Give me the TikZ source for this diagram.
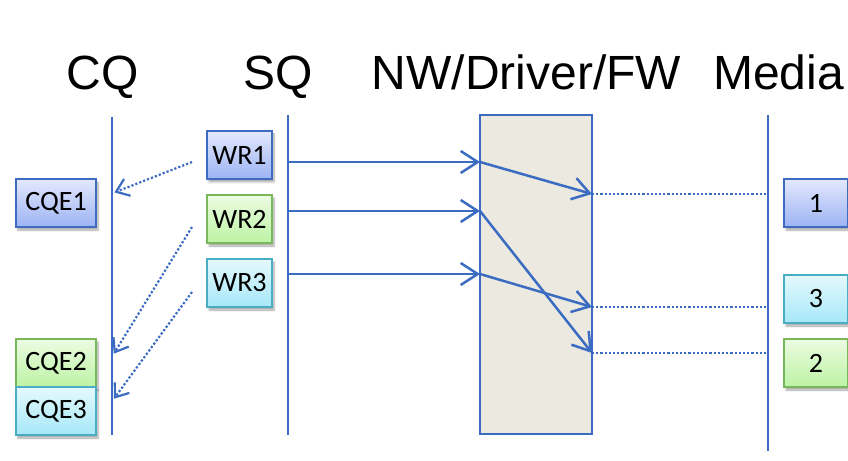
\documentclass[tikz,border=0pt]{standalone}
\usepackage{fontspec}
\setmainfont{Liberation Sans}
\newfontfamily\boxfont{Carlito}
\usetikzlibrary{arrows.meta,shadows.blur}

\definecolor{linec}{HTML}{3B6CC2}
\definecolor{bluetop}{HTML}{E2E8FC}
\definecolor{bluebot}{HTML}{9DB3F4}
\definecolor{blueedge}{HTML}{3D6BC0}
\definecolor{greentop}{HTML}{ECFCE2}
\definecolor{greenbot}{HTML}{BCF3A4}
\definecolor{greenedge}{HTML}{78B75C}
\definecolor{cyantop}{HTML}{E4F9FD}
\definecolor{cyanbot}{HTML}{A6E8F8}
\definecolor{cyanedge}{HTML}{4BACC6}
\definecolor{boxfill}{HTML}{ECEAE0}

\tikzset{
  title/.style={anchor=base, font=\fontsize{48bp}{52bp}\selectfont},
  lifeline/.style={draw=linec, line width=2.5bp},
  qbox/.style={minimum width=80bp, minimum height=48bp, inner sep=0pt,
    line width=2.2bp, font=\boxfont\fontsize{28bp}{30bp}\selectfont,
    blur shadow={shadow xshift=2bp, shadow yshift=-3bp, shadow blur steps=6, shadow opacity=35}},
  wbox/.style={qbox, minimum width=65bp},
  mbox/.style={qbox, minimum width=64bp},
  bluebox/.style={draw=blueedge, top color=bluetop, bottom color=bluebot},
  greenbox/.style={draw=greenedge, top color=greentop, bottom color=greenbot},
  cyanbox/.style={draw=cyanedge, top color=cyantop, bottom color=cyanbot},
  msg/.style={draw=linec, line width=2.5bp, -{Straight Barb[length=17bp, width=22bp, line width=2.5bp]}},
  cqe/.style={draw=linec, line width=2.2bp, dotted, -{Straight Barb[length=12bp, width=18bp, line width=2.2bp, sep]}},
  media/.style={draw=linec, line width=2.2bp, dotted}
}

\begin{document}
\begin{tikzpicture}[x=1bp, y=-1bp]
  \useasboundingbox (0,0) rectangle (848,461);

  % column headings
  \node[title] (tcq) at (102.5,90) {CQ};
  \node[title] (tsq) at (278.5,90) {SQ};
  \node[title] (tnw) at (526.5,90) {NW/Driver/FW};
  \node[title] (tmd) at (778.5,90) {Media};

  % network / driver / firmware stage
  \node[draw=linec, line width=2.5bp, fill=boxfill, minimum width=112bp,
        minimum height=319bp, inner sep=0pt] (nw) at (536,274.5) {};

  % lifelines
  \coordinate (cqtop) at (112,117);  \coordinate (cqbot) at (112,435);
  \coordinate (sqtop) at (288,115);  \coordinate (sqbot) at (288,435);
  \coordinate (mdtop) at (768,115);  \coordinate (mdbot) at (768,451);
  \draw[lifeline] (cqtop) -- (cqbot);
  \draw[lifeline] (sqtop) -- (sqbot);
  \draw[lifeline] (mdtop) -- (mdbot);

  % work requests
  \node[wbox, bluebox]  (wr1) at (239.5,155) {WR1};
  \node[wbox, greenbox] (wr2) at (239.5,219) {WR2};
  \node[wbox, cyanbox]  (wr3) at (239.5,283) {WR3};

  % completion queue entries
  \node[qbox, bluebox]  (cqe1) at (56,203) {CQE1};
  \node[qbox, greenbox] (cqe2) at (56,363) {CQE2};
  \node[qbox, cyanbox]  (cqe3) at (56,411) {CQE3};

  % media blocks
  \node[mbox, bluebox]  (m1) at (816,203) {1};
  \node[mbox, cyanbox]  (m3) at (816,299) {3};
  \node[mbox, greenbox] (m2) at (816,363) {2};

  % points on the lifelines and on the stage
  \coordinate (s1) at (288,162);  \coordinate (n1) at (480,162);
  \coordinate (s2) at (288,211);  \coordinate (n2) at (480,211);
  \coordinate (s3) at (288,274);  \coordinate (n3) at (480,274);
  \coordinate (o1) at (592,194);  \coordinate (d1) at (768,194);
  \coordinate (o3) at (592,307);  \coordinate (d3) at (768,307);
  \coordinate (o2) at (592,353);  \coordinate (d2) at (768,353);

  % requests posted to the stage
  \draw[msg] (s1) -- (n1);
  \draw[msg] (s2) -- (n2);
  \draw[msg] (s3) -- (n3);

  % processing order inside the stage
  \draw[msg] (n1) -- (o1);
  \draw[msg] (n2) -- (o2);
  \draw[msg] (n3) -- (o3);

  % writes reaching the media
  \draw[media] (o1) -- (d1);
  \draw[media] (o3) -- (d3);
  \draw[media] (o2) -- (d2);

  % completions
  \coordinate (w1s) at (192,162); \coordinate (c1e) at (113,193);
  \coordinate (w2s) at (192,227); \coordinate (c2e) at (113,355);
  \coordinate (w3s) at (192,292); \coordinate (c3e) at (113,400);
  \draw[cqe] (w1s) -- (c1e);
  \draw[cqe] (w2s) -- (c2e);
  \draw[cqe] (w3s) -- (c3e);
\end{tikzpicture}
\end{document}
